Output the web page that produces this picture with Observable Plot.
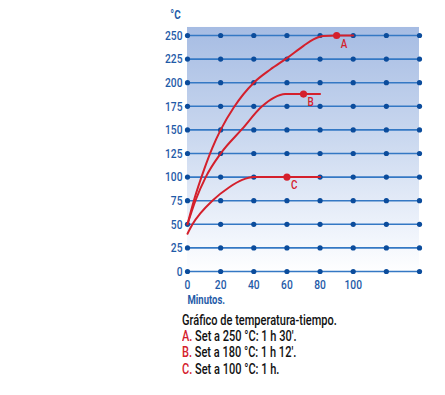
<!DOCTYPE html>
<html>
<head>
<meta charset="utf-8">
<script src="https://cdn.jsdelivr.net/npm/d3@7"></script>
<script src="https://cdn.jsdelivr.net/npm/@observablehq/plot@0.6"></script>
<style>
  html, body { margin: 0; padding: 0; background: #fff; }
  body { width: 445px; height: 395px; overflow: hidden; font-family: Roboto, "Liberation Sans", Arial, sans-serif; }
  #chart { position: absolute; left: 0; top: 0; }
  #caption { position: absolute; left: 182px; top: 313px; font-size: 14.5px; font-weight: 500; line-height: 16.2px; color: #111; transform: scaleX(0.76); transform-origin: 0 0; white-space: nowrap; }
  #caption .k { color: #d4202c; }
</style>
</head>
<body>
<div id="chart"></div>
<div id="caption"></div>
<script>
// ---- data ----
const yTicks = [0, 25, 50, 75, 100, 125, 150, 175, 200, 225, 250];
const xTicks = [0, 20, 40, 60, 80, 100];
const xGrid = [0, 20, 40, 60, 80, 100, 120, 140];

const seriesA = [[0,50],[4,76],[10,108],[15,131],[20,150],[28,174],[40,200],[50,214],[60,226],[70,239],[76,246],[82,249.5],[90,250],[100,250]];
const seriesB = [[0,50],[5,76],[11,100],[20,125],[33,151],[45,175],[52,184],[59,188],[70,188],[80,188]];
const seriesC = [[0,40],[3,50],[8,62],[15,75],[25,89],[33,97],[40,100],[60,100],[80,100]];

const markers = [
  {name: "A", x: 90, y: 250},
  {name: "B", x: 70, y: 188},
  {name: "C", x: 60, y: 100}
];

const captionTitle = "Gráfico de temperatura-tiempo.";
const captionItems = [
  {key: "A.", text: " Set a 250 °C: 1 h 30'."},
  {key: "B.", text: " Set a 180 °C: 1 h 12'."},
  {key: "C.", text: " Set a 100 °C: 1 h."}
];

// ---- build ----
const curveData = [
  ...seriesA.map(([x, y]) => ({s: "A", x, y})),
  ...seriesB.map(([x, y]) => ({s: "B", x, y})),
  ...seriesC.map(([x, y]) => ({s: "C", x, y}))
];
const gridDots = xGrid.flatMap(x => yTicks.map(y => ({x, y})));

const blue = "#3478c4";
const dotBlue = "#0b4c9c";
const labelBlue = "#1f5ba8";
const red = "#d4202c";
const font = 'Roboto, "Liberation Sans", Arial, sans-serif';

const plot = Plot.plot({
  width: 445,
  height: 305,
  marginLeft: 187,
  marginRight: 26,
  marginTop: 35,
  marginBottom: 34,
  style: {fontFamily: font, fontWeight: 500, background: "transparent", overflow: "visible"},
  x: {domain: [0, 140]},
  y: {domain: [0, 250]},
  marks: [
    Plot.rect([{x1: 0, x2: 140, y1: -3, y2: 258.5}], {x1: "x1", x2: "x2", y1: "y1", y2: "y2", fill: "url(#bggrad)"}),
    Plot.ruleY(yTicks, {x1: 0, x2: 140, stroke: blue, strokeWidth: 1.6}),
    Plot.dot(gridDots, {x: "x", y: "y", r: 2.6, fill: dotBlue}),
    Plot.line(curveData, {x: "x", y: "y", z: "s", stroke: red, strokeWidth: 2, curve: "monotone-x"}),
    Plot.dot(markers, {x: "x", y: "y", r: 3.6, fill: red}),
    Plot.text(markers, {x: "x", y: "y", text: "name", fill: red, fontSize: 13, dx: 4, dy: 8, textAnchor: "start"}),
    Plot.axisY({ticks: yTicks, tickSize: 0, tickPadding: 5, fill: labelBlue, fontSize: 13.5, label: null, tickFormat: d => String(d)}),
    Plot.axisX({ticks: xTicks, tickSize: 0, tickPadding: 8, fill: labelBlue, fontSize: 13.5, label: null, tickFormat: d => String(d)}),
    Plot.text(["°C"], {frameAnchor: "top-left", dx: -12, dy: -21, fill: labelBlue, fontWeight: "bold", fontSize: 13, textAnchor: "middle", lineAnchor: "middle"}),
    Plot.text(["Minutos."], {frameAnchor: "bottom-left", dx: 0, dy: 28, fill: labelBlue, fontWeight: "bold", fontSize: 12.5, textAnchor: "start", lineAnchor: "middle"})
  ]
});

// gradient definition
const defs = d3.select(plot).insert("defs", ":first-child");
const g = defs.append("linearGradient").attr("id", "bggrad").attr("x1", 0).attr("y1", 0).attr("x2", 0).attr("y2", 1);
g.append("stop").attr("offset", "0%").attr("stop-color", "#a6bce3");
g.append("stop").attr("offset", "45%").attr("stop-color", "#cad8ef");
g.append("stop").attr("offset", "85%").attr("stop-color", "#f1f5fc");
g.append("stop").attr("offset", "100%").attr("stop-color", "#ffffff");

// condensed look for all labels
d3.select(plot).selectAll("text").each(function() {
  const t = this.getAttribute("transform");
  if (t) this.setAttribute("transform", t + " scale(0.76,1)");
});

document.getElementById("chart").appendChild(plot);

const cap = document.getElementById("caption");
const t = document.createElement("div");
t.textContent = captionTitle;
cap.appendChild(t);
captionItems.forEach(it => {
  const d = document.createElement("div");
  const k = document.createElement("span");
  k.className = "k";
  k.textContent = it.key;
  d.appendChild(k);
  d.appendChild(document.createTextNode(it.text));
  cap.appendChild(d);
});
</script>
</body>
</html>
